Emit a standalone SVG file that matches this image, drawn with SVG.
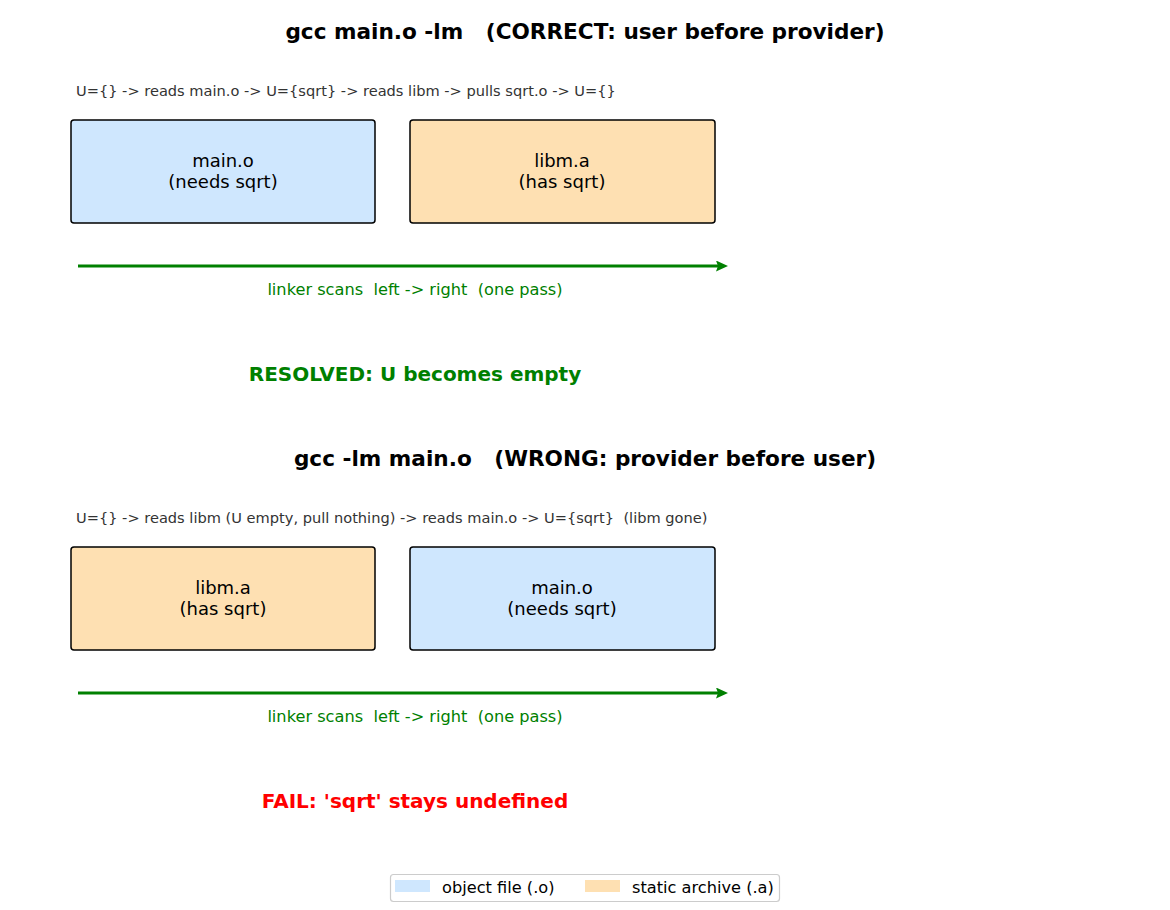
<svg xmlns="http://www.w3.org/2000/svg" width="1170" height="910" viewBox="0 0 1170 910">
<defs>
<style>
text{font-family:"DejaVu Sans",Verdana,sans-serif;white-space:pre}
.title{font-size:21.6px;font-weight:bold;fill:#000;text-anchor:middle}
.trace{font-size:14.6px;fill:#333}
.lbl{font-size:18px;fill:#000;text-anchor:middle}
.scan{font-size:16.2px;fill:#008000;text-anchor:middle}
.ok{font-size:20px;font-weight:bold;fill:#008000;text-anchor:middle}
.bad{font-size:20px;font-weight:bold;fill:#ff0000;text-anchor:middle}
.obj{fill:#cfe7fe;stroke:#000;stroke-width:1.5}
.arc{fill:#fee0b2;stroke:#000;stroke-width:1.5}
.leg{font-size:16.2px;fill:#000}
</style>
<marker id="ah" markerWidth="14" markerHeight="12" refX="2" refY="5.5" orient="auto" markerUnits="userSpaceOnUse">
<path d="M0,0 L12,5.5 L0,11 L2,5.5 Z" fill="#008000"/>
</marker>
</defs>
<rect width="1170" height="910" fill="#fff"/>

<text class="title" x="585" y="39" xml:space="preserve">gcc main.o -lm   (CORRECT: user before provider)</text>
<text class="trace" x="76" y="96">U={} -&gt; reads main.o -&gt; U={sqrt} -&gt; reads libm -&gt; pulls sqrt.o -&gt; U={}</text>
<g id="top-main"><rect class="obj" x="71" y="120" width="304" height="103" rx="3"/><text class="lbl" x="223" y="167">main.o</text><text class="lbl" x="223" y="188">(needs sqrt)</text></g>
<g id="top-libm"><rect class="arc" x="410" y="120" width="305" height="103" rx="3"/><text class="lbl" x="562" y="167">libm.a</text><text class="lbl" x="562" y="188">(has sqrt)</text></g>
<text class="scan" x="415" y="295" xml:space="preserve">linker scans  left -&gt; right  (one pass)</text>
<text class="ok" x="415" y="381">RESOLVED: U becomes empty</text>

<text class="title" x="585" y="466" xml:space="preserve">gcc -lm main.o   (WRONG: provider before user)</text>
<text class="trace" x="76" y="523" xml:space="preserve">U={} -&gt; reads libm (U empty, pull nothing) -&gt; reads main.o -&gt; U={sqrt}  (libm gone)</text>
<g id="bot-libm"><rect class="arc" x="71" y="547" width="304" height="103" rx="3"/><text class="lbl" x="223" y="594">libm.a</text><text class="lbl" x="223" y="615">(has sqrt)</text></g>
<g id="bot-main"><rect class="obj" x="410" y="547" width="305" height="103" rx="3"/><text class="lbl" x="562" y="594">main.o</text><text class="lbl" x="562" y="615">(needs sqrt)</text></g>
<text class="scan" x="415" y="722" xml:space="preserve">linker scans  left -&gt; right  (one pass)</text>
<text class="bad" x="415" y="808">FAIL: 'sqrt' stays undefined</text>

<g id="connectors" stroke="#008000" stroke-width="3" fill="none">
<line x1="78" y1="266" x2="718" y2="266" marker-end="url(#ah)"/>
<line x1="78" y1="693" x2="718" y2="693" marker-end="url(#ah)"/>
</g>

<g id="legend">
<rect x="390.5" y="874.5" width="389" height="27" rx="3" fill="#fff" stroke="#ccc" stroke-width="1.2"/>
<rect x="395" y="880" width="35" height="12" fill="#cfe7fe"/>
<text class="leg" x="442" y="893">object file (.o)</text>
<rect x="585" y="880" width="35" height="12" fill="#fee0b2"/>
<text class="leg" x="632" y="893">static archive (.a)</text>
</g>
</svg>
